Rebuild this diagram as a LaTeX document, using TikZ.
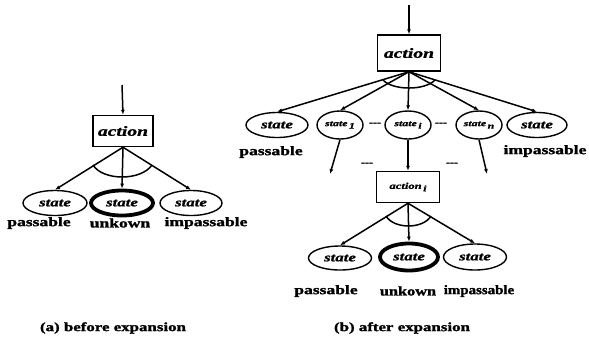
\documentclass[tikz,border=0pt]{standalone}
\usepackage{fontspec}
\usepackage{graphicx}
\setmainfont{Liberation Serif}
\newfontfamily\lblfont[FakeStretch=1.35,FakeBold=1.6]{Liberation Serif Bold}
\newfontfamily\itfont[FakeStretch=1.4,FakeBold=1.2]{Liberation Serif Bold Italic}
\newcommand\hsq[2]{\scalebox{#1}[1]{#2}}
\newcommand\subi[1]{\,\raisebox{-2.5pt}{\fontsize{8.5}{8.5}\selectfont #1}}
\usetikzlibrary{shapes.geometric,arrows.meta}
\begin{document}
\begin{tikzpicture}[x=1pt,y=-1pt,
  conn/.style={line width=1.5pt,-{Latex[length=5pt,width=4pt]}},
  actbox/.style={draw,line width=1.5pt,rectangle,inner sep=0pt,font=\itfont\fontsize{14}{14}\selectfont},
  stbig/.style={draw,line width=1.4pt,ellipse,inner sep=0pt,minimum width=62pt,minimum height=25pt,font=\itfont\fontsize{12}{12}\selectfont},
  stsmall/.style={draw,line width=1.4pt,ellipse,inner sep=0pt,minimum width=46pt,minimum height=28pt,font=\itfont\fontsize{8.5}{8.5}\selectfont},
  stthick/.style={stbig,line width=3.8pt},
  lbl/.style={inner sep=0pt,font=\lblfont\fontsize{13}{13}\selectfont},
  capt/.style={inner sep=0pt,font=\lblfont\fontsize{12.5}{12.5}\selectfont},
  arcline/.style={line width=1.5pt},
  dots/.style={inner sep=0pt,font=\lblfont\fontsize{9}{9}\selectfont}]
\useasboundingbox (0,0) rectangle (589,341);
% ---------- (a) ----------
\coordinate (topA) at (122,85);
\node[actbox,minimum width=60pt,minimum height=31pt] (actA) at (123,131) {action};
\node[stbig,minimum width=64pt] (sA1) at (55,203) {state};
\node[stthick] (sA2) at (122,203) {state};
\node[stbig] (sA3) at (191,203) {state};
\draw[conn] (topA) -- (actA.north);
\draw[conn] (actA.south) -- (sA1.north);
\draw[conn] (actA.south) -- (sA2.north);
\draw[conn] (actA.south) -- (sA3.north);
\draw[arcline] (93,165) .. controls (103,181) and (141,181) .. (152,165);
\node[lbl] (lA1) at (39,223) {passable};
\node[lbl] (lA2) at (120,223) {unkown};
\node[lbl] (lA3) at (206,223) {impassable};
\node[capt] (capA) at (113,328) {(a) before expansion};
% ---------- (b) ----------
\coordinate (topB) at (409,5);
\node[actbox,minimum width=63pt,minimum height=36pt] (actB) at (409,53) {action};
\node[stbig] (s1) at (277,125) {state};
\node[stsmall] (s2) at (340,125) {state\subi{1}};
\node[stsmall] (s3) at (408,125) {state\subi{i}};
\node[stsmall] (s4) at (479,125) {state\subi{n}};
\node[stbig,minimum width=60pt] (s5) at (537,125) {state};
\draw[conn] (topB) -- (actB.north);
\foreach \t in {s1,s2,s3,s4,s5} \draw[conn] (actB.south) -- (\t.north);
\draw[arcline] (383,80) .. controls (393,90.7) and (425,90.7) .. (435,80);
\node[dots] (d1) at (375,124) {-{}-{}-};
\node[dots] (d2) at (441,124) {-{}-{}-};
\node[lbl] (l1) at (271,152) {passable};
\node[lbl] (l5) at (545,151) {impassable};
\coordinate (e2) at (330,174);
\coordinate (e4) at (487,174);
\draw[conn] (s2.south) -- (e2);
\draw[conn] (s4.south) -- (e4);
\node[dots] (d3) at (367,164) {-{}-{}-};
\node[dots] (d4) at (452,164) {-{}-{}-};
\node[actbox,minimum width=63pt,minimum height=31pt,font=\itfont\fontsize{9}{9}\selectfont] (actI) at (408,187) {action\subi{i}};
\draw[conn] (s3.south) -- (actI.north);
\node[stbig,minimum width=63pt,minimum height=24pt] (t1) at (340,258) {state};
\node[stthick,minimum width=58pt,minimum height=27pt] (t2) at (409,257) {state};
\node[stbig,minimum width=63pt,minimum height=26pt] (t3) at (475,257) {state};
\foreach \t in {t1,t2,t3} \draw[conn] (actI.south) -- (\t.north);
\draw[arcline] (386,216) .. controls (394,229.3) and (423,229.3) .. (431,216);
\node[lbl] (m1) at (326,291) {passable};
\node[lbl] (m2) at (408,291) {\hsq{0.93}{unkown}};
\node[lbl] (m3) at (479,291) {\hsq{0.85}{impassable}};
\node[capt] (capB) at (402,328) {(b) after expansion};
\end{tikzpicture}
\end{document}
